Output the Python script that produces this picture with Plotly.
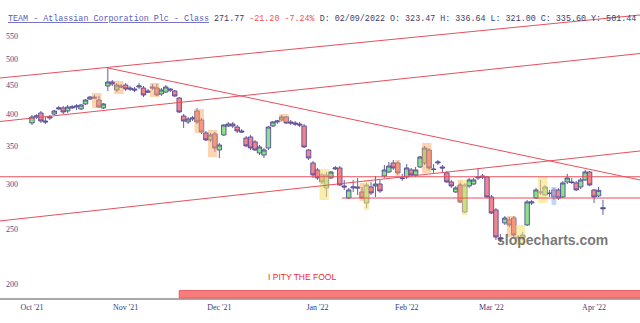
import plotly.graph_objects as go

# ---------------- data ----------------
dates = [
 "2021-10-01","2021-10-04","2021-10-05","2021-10-06","2021-10-07","2021-10-08",
 "2021-10-11","2021-10-12","2021-10-13","2021-10-14","2021-10-15",
 "2021-10-18","2021-10-19","2021-10-20","2021-10-21","2021-10-22",
 "2021-10-25","2021-10-26","2021-10-27","2021-10-28","2021-10-29",
 "2021-11-01","2021-11-02","2021-11-03","2021-11-04","2021-11-05",
 "2021-11-08","2021-11-09","2021-11-10","2021-11-11","2021-11-12",
 "2021-11-15","2021-11-16","2021-11-17","2021-11-18","2021-11-19",
 "2021-11-22","2021-11-23","2021-11-24","2021-11-26","2021-11-29","2021-11-30",
 "2021-12-01","2021-12-02","2021-12-03","2021-12-06","2021-12-07","2021-12-08",
 "2021-12-09","2021-12-10","2021-12-13","2021-12-14","2021-12-15","2021-12-16",
 "2021-12-17","2021-12-20","2021-12-21","2021-12-22","2021-12-23","2021-12-27",
 "2021-12-28","2021-12-29","2021-12-30","2021-12-31",
 "2022-01-03","2022-01-04","2022-01-05","2022-01-06","2022-01-07",
 "2022-01-10","2022-01-11","2022-01-12","2022-01-13","2022-01-14",
 "2022-01-18","2022-01-19","2022-01-20","2022-01-21",
 "2022-01-24","2022-01-25","2022-01-26","2022-01-27","2022-01-28","2022-01-31",
 "2022-02-01","2022-02-02","2022-02-03","2022-02-04",
 "2022-02-07","2022-02-08","2022-02-09","2022-02-10","2022-02-11",
 "2022-02-14","2022-02-15","2022-02-16","2022-02-17","2022-02-18",
 "2022-02-22","2022-02-23","2022-02-24","2022-02-25","2022-02-28",
 "2022-03-01","2022-03-02","2022-03-03","2022-03-04",
 "2022-03-07","2022-03-08","2022-03-09","2022-03-10","2022-03-11",
 "2022-03-14","2022-03-15","2022-03-16","2022-03-17","2022-03-18",
 "2022-03-21","2022-03-22","2022-03-23","2022-03-24","2022-03-25",
 "2022-03-28","2022-03-29","2022-03-30","2022-03-31",
 "2022-04-01","2022-04-04","2022-04-05",
]

opens = [385.5,395.0,401.5,388.6,393.4,399.8,408.1,409.8,404.8,409.8,411.4,408.1,416.5,425.0,428.5,423.3,409.8,
         448.2,455.6,440.9,448.2,450.0,444.5,442.7,446.4,444.5,439.1,446.4,444.5,433.8,437.3,442.7,439.1,426.8,
         396.6,387.1,391.8,404.8,390.2,370.1,359.7,368.6,345.3,367.1,380.8,383.9,379.2,373.1,362.6,364.1,356.8,
         341.1,338.3,348.1,380.8,387.1,390.2,395.0,387.1,385.5,383.9,380.8,345.3,327.5,318.3,311.9,295.8,308.1,
         319.6,320.9,298.2,283.9,295.8,297.0,291.0,278.2,297.0,298.2,300.6,310.6,315.7,327.5,327.5,308.1,309.4,
         318.3,311.9,322.2,327.5,345.3,319.6,327.5,322.2,314.5,303.1,291.0,299.4,268.2,298.2,300.6,308.1,310.6,
         309.4,285.1,270.4,241.2,256.5,259.6,261.7,242.2,241.2,254.4,278.2,283.9,289.8,287.4,289.8,293.4,293.4,
         285.1,303.1,303.1,301.9,297.0,305.6,315.7,293.4,286.3,273.0]
highs = [398.2,399.8,404.8,395.0,398.2,406.4,413.1,413.1,414.8,414.8,416.5,416.5,425.0,430.3,432.0,430.3,418.2,
         482.3,459.3,453.7,451.9,453.7,448.2,446.4,453.7,448.2,442.7,451.9,451.9,444.5,450.0,444.5,440.9,428.5,
         399.8,395.0,396.6,409.8,393.4,373.1,370.1,371.6,355.3,383.9,387.1,387.1,382.3,376.1,365.6,367.1,359.7,
         352.4,348.1,380.8,388.6,390.2,398.2,396.6,390.2,388.6,387.1,383.9,346.7,330.2,320.9,314.5,315.7,317.0,
         323.5,323.5,305.6,295.8,305.6,308.1,297.0,301.9,303.1,310.6,305.6,324.8,328.8,331.5,330.2,313.2,326.1,
         320.9,322.2,336.9,351.0,348.1,326.1,331.5,324.8,317.0,305.6,298.2,301.9,301.9,308.1,308.1,320.9,313.2,
         310.6,287.4,272.6,245.2,263.9,262.8,263.9,244.2,247.3,281.6,281.6,295.8,305.6,299.4,293.4,295.8,295.8,
         304.4,313.2,308.1,304.4,308.1,318.3,317.0,294.6,297.0,281.6]
lows = [382.3,391.8,385.5,383.9,390.2,398.2,406.4,399.8,401.5,408.1,406.4,406.4,414.8,423.3,425.0,409.8,408.1,
        439.1,448.2,437.3,444.5,439.1,439.1,437.3,442.7,428.5,435.5,440.9,430.3,430.3,435.5,437.3,428.5,401.5,
        377.7,383.9,388.6,383.9,368.6,358.2,356.8,342.5,334.2,365.6,379.2,377.7,370.1,370.1,349.6,345.3,343.9,
        338.3,334.2,345.3,379.2,383.9,388.6,383.9,382.3,380.8,379.2,348.1,331.5,308.1,305.6,300.6,285.1,306.9,
        318.3,298.2,293.4,282.8,291.0,287.4,282.8,272.6,287.4,285.1,289.8,308.1,314.5,318.3,311.9,304.4,306.9,
        310.6,309.4,320.9,324.8,318.3,314.5,324.8,315.7,301.9,295.8,289.8,278.2,267.1,295.8,299.4,305.6,306.9,
        283.9,266.0,239.3,237.4,254.4,252.4,242.2,238.3,239.3,253.4,276.0,282.8,287.4,286.3,285.1,281.6,281.6,
        283.9,300.6,300.6,292.2,294.6,304.4,298.2,278.2,285.1,265.0]
closes = [395.0,396.6,388.6,387.1,395.0,404.8,409.8,403.1,411.4,411.4,413.1,414.8,423.3,428.5,426.8,411.4,416.5,
          455.6,451.9,450.0,446.4,442.7,442.7,440.9,448.2,432.0,437.3,444.5,432.0,440.9,446.4,440.9,430.3,403.1,
          388.6,391.8,393.4,387.1,371.6,359.7,367.1,348.1,352.4,382.3,383.9,380.8,373.1,371.6,351.0,348.1,345.3,
          349.6,345.3,379.2,387.1,388.6,395.0,385.5,385.5,383.9,382.3,349.6,334.2,311.9,308.1,303.1,311.9,315.7,
          320.9,299.4,297.0,293.4,297.0,295.8,283.9,299.4,289.8,300.6,292.2,318.3,323.5,320.9,314.5,307.5,320.9,
          311.9,318.3,335.6,348.1,320.9,319.0,328.8,320.9,303.1,298.2,295.8,279.4,299.4,305.6,305.6,309.4,309.4,
          285.1,267.1,242.2,240.3,261.7,254.4,244.2,241.2,244.2,279.4,279.4,293.4,291.0,297.0,289.2,285.1,283.9,
          301.9,308.1,302.5,293.4,305.6,315.7,299.4,285.1,292.97,271.77]

month_ticks = ["2021-10-01","2021-11-01","2021-12-01","2022-01-03","2022-02-01","2022-03-01","2022-04-01"]
month_labels = ["Oct '21","Nov '21","Dec '21","Jan '22","Feb '22","Mar '22","Apr '22"]
price_ticks = [200, 250, 300, 350, 400, 450, 500, 550]

# trend lines drawn on the chart (bar position, price)
trend_x0 = [-7.2, -7.2, 17, -7.2, 69.5, -7.2]
trend_p0 = [463.0, 387.8, 482.3, 309.6, 283.9, 258.6]
trend_x1 = [136.3, 136.3, 136.3, 136.3, 136.3, 136.3]
trend_p1 = [598.5, 511.6, 305.6, 309.6, 283.9, 343.9]

# pattern highlight boxes (first bar, last bar, low price, high price, kind)
hl_first = [14, 19, 27, 37, 40, 56, 65, 74, 75, 82, 88, 96, 97, 107, 109, 114, 117]
hl_last  = [15, 20, 28, 38, 41, 57, 66, 74, 75, 82, 89, 96, 97, 108, 110, 115, 117]
hl_low   = [409.8, 433.8, 428.5, 370.1, 335.6, 387.1, 281.6, 280.5, 270.4, 310.6, 314.5, 278.2, 265.0, 242.2, 234.5, 278.2, 276.0]
hl_high  = [435.5, 457.4, 453.7, 408.1, 374.6, 399.8, 319.6, 301.9, 305.6, 331.5, 355.3, 305.6, 305.6, 263.9, 254.4, 309.4, 296.9]
hl_kind  = ["o","o","o","o","o","o","y","o","y","o","o","o","y","o","y","y","b"]

bar_start = "2021-11-17"
note_bar = 60.5

# ---------------- figure ----------------
idx = list(range(len(dates)))
fig = go.Figure()

hl_colors = {"o": "rgba(247,170,100,0.5)", "y": "rgba(246,226,120,0.6)", "b": "rgba(140,185,240,0.55)"}
for kind, col in hl_colors.items():
    xs, ys = [], []
    for a, b, lo, hi, k in zip(hl_first, hl_last, hl_low, hl_high, hl_kind):
        if k != kind:
            continue
        xa, xb = a - 0.55, b + 0.55
        xs += [xa, xb, xb, xa, xa, None]
        ys += [lo, lo, hi, hi, lo, None]
    fig.add_trace(go.Scatter(x=xs, y=ys, mode="lines", fill="toself", fillcolor=col,
                             line=dict(width=0), hoverinfo="skip", showlegend=False))

fig.add_trace(go.Candlestick(
    x=idx, open=opens, high=highs, low=lows, close=closes,
    increasing=dict(fillcolor="#86e486", line=dict(color="#56499a", width=0.9)),
    decreasing=dict(fillcolor="#f2848c", line=dict(color="#56499a", width=0.9)),
    whiskerwidth=0, showlegend=False, hoverinfo="skip"))

for x0, p0, x1, p1 in zip(trend_x0, trend_p0, trend_x1, trend_p1):
    fig.add_trace(go.Scatter(x=[x0, x1], y=[p0, p1], mode="lines",
                             line=dict(color="#e8505c", width=1), hoverinfo="skip", showlegend=False))

fig.add_shape(type="rect", xref="x", yref="paper", x0=dates.index(bar_start), x1=140,
              y0=0, y1=0.025, fillcolor="#f87c7c", line=dict(color="#e86060", width=1), layer="above")

fig.add_annotation(xref="x", yref="paper", x=note_bar, y=0.07, xanchor="center", yanchor="middle",
                   text="I PITY THE FOOL", showarrow=False,
                   font=dict(family="Liberation Sans", size=8.5, color="#ee2a30"))

fig.add_annotation(xref="paper", yref="paper", x=0.8625, y=0.195, xanchor="center", yanchor="middle",
                   text="<b>slopecharts.com</b>",
                   showarrow=False, font=dict(family="Liberation Sans", size=14, color="rgba(85,85,85,0.8)"))

header = ("<u>TEAM - Atlassian Corporation Plc - Class</u>"
          "<span style='color:#3c3c70'> 271.77 </span>"
          "<span style='color:#f05050'>-21.20 -7.24%</span>"
          "<span style='color:#3c3c70'> D: 02/09/2022 O: 323.47 H: 336.64 L: 321.00 C: 335.60 Y: 501.44</span>")
fig.add_annotation(xref="paper", yref="paper", x=0.009, y=0.936, xanchor="left", yanchor="middle",
                   text=header, showarrow=False,
                   font=dict(family="Liberation Mono", size=8.4, color="#5b5bb5"))

fig.update_layout(
    width=640, height=323, margin=dict(l=0, r=0, t=0, b=25),
    paper_bgcolor="white", plot_bgcolor="white", showlegend=False,
    boxgap=0.0, boxgroupgap=0.0,
    xaxis=dict(type="linear", range=[-7.17, 136.3], showgrid=False, zeroline=False,
               tickvals=[dates.index(m) for m in month_ticks], ticktext=month_labels,
               ticks="", showline=True, linecolor="#a8a8a8", linewidth=2,
               tickfont=dict(family="Liberation Serif", size=8, color="#3a3a7a"),
               rangeslider=dict(visible=False), fixedrange=True),
    yaxis=dict(type="log", range=[2.27624, 2.80363], showgrid=False, zeroline=False,
               tickvals=price_ticks, ticks="", ticklabelposition="inside",
               ticklabelstandoff=3,
               tickfont=dict(family="Liberation Serif", size=8, color="#4a4a8a"), fixedrange=True),
)

fig.write_html("out.html")
